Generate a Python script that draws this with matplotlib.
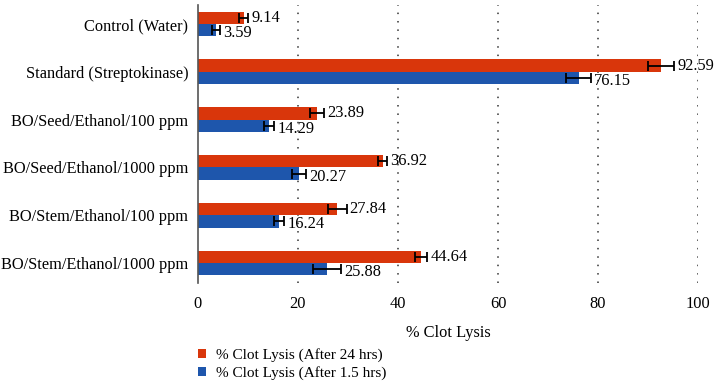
import matplotlib
matplotlib.use("Agg")
import matplotlib.pyplot as plt
import numpy as np

plt.rcParams['font.family'] = ['Liberation Serif', 'DejaVu Serif']

categories = ["Control (Water)", "Standard (Streptokinase)", "BO/Seed/Ethanol/100 ppm",
              "BO/Seed/Ethanol/1000 ppm", "BO/Stem/Ethanol/100 ppm", "BO/Stem/Ethanol/1000 ppm"]
lysis_24h = [9.14, 92.59, 23.89, 36.92, 27.84, 44.64]
err_24h = [0.9, 2.6, 1.4, 0.9, 1.9, 1.2]
lysis_15h = [3.59, 76.15, 14.29, 20.27, 16.24, 25.88]
err_15h = [0.8, 2.5, 1.0, 1.4, 1.0, 2.8]
xticks = [0, 20, 40, 60, 80, 100]

red = "#D9360B"
blue = "#1E56AC"
fs = 11.8

fig = plt.figure(figsize=(7.16, 3.81), dpi=100)
ax = fig.add_axes([0.2765, 0.257, 0.6985, 0.73])

y = np.arange(len(categories))
h = 0.26
ax.barh(y - h/2, lysis_24h, height=h, color=red, xerr=err_24h,
        error_kw=dict(ecolor='black', elinewidth=1.3, capsize=3.5, capthick=1.3),
        label="% Clot Lysis (After 24 hrs)")
ax.barh(y + h/2, lysis_15h, height=h, color=blue, xerr=err_15h,
        error_kw=dict(ecolor='black', elinewidth=1.3, capsize=3.5, capthick=1.3),
        label="% Clot Lysis (After 1.5 hrs)")

for yi, v, e in zip(y, lysis_24h, err_24h):
    ax.text(v + e + 0.6, yi - h/2, f"{v:.2f}", va='center', ha='left', fontsize=fs)
for yi, v, e in zip(y, lysis_15h, err_15h):
    ax.text(v + e + 0.6, yi + h/2 + 0.06, f"{v:.2f}", va='center', ha='left', fontsize=fs)

ax.set_xlim(0, 100)
ax.set_ylim(5.42, -0.4)
ax.set_yticks(y)
ax.set_yticklabels(categories, fontsize=fs)
ax.set_xticks(xticks)
ax.set_xticklabels([str(t) for t in xticks], fontsize=fs)
ax.tick_params(length=0, pad=7)
ax.tick_params(axis='x', pad=9)
for s in ['top', 'right', 'bottom']:
    ax.spines[s].set_visible(False)
ax.spines['left'].set_color('#555555')
ax.spines['left'].set_linewidth(1.2)
for t in xticks[1:]:
    ax.axvline(t, color='#333333', linestyle=(0, (1, 4.5)), linewidth=1.1, zorder=0)
ax.set_xlabel("% Clot Lysis", fontsize=fs, labelpad=10)

fig.legend(loc='upper left', bbox_to_anchor=(0.268, 0.103), frameon=False,
           fontsize=11, handlelength=0.55, handleheight=0.55, handletextpad=0.6,
           labelspacing=0.3, borderaxespad=0)

fig.savefig("out.png", dpi=100)
